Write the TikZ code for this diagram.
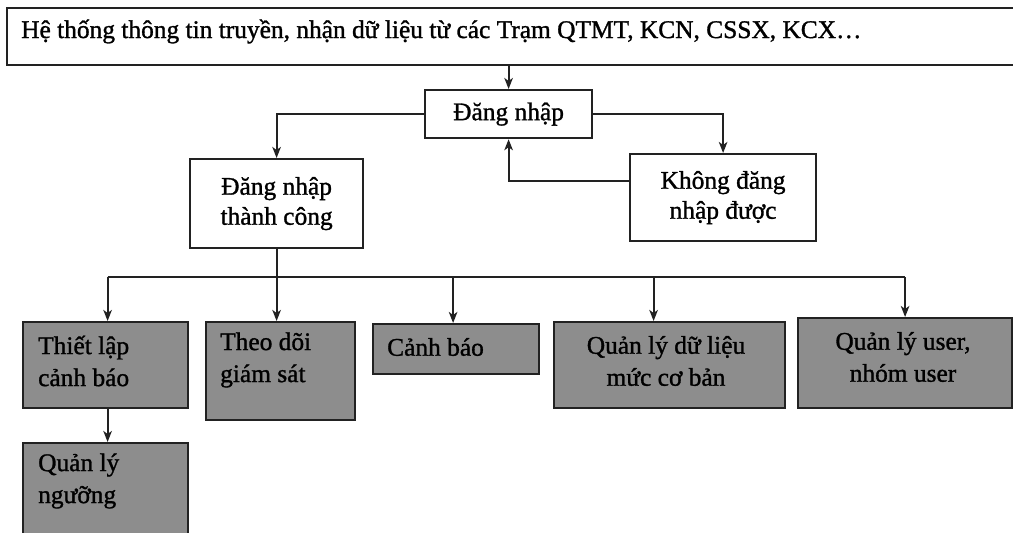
\documentclass[tikz,border=0pt]{standalone}
\usepackage{fontspec}
\setmainfont{Liberation Serif}[FakeBold=1.2]
\usetikzlibrary{arrows.meta}
\definecolor{edge}{HTML}{222222}
\definecolor{boxgray}{HTML}{8D8D8D}
\tikzset{
  conn/.style={draw=edge, line width=2.1pt},
  arr/.style={conn, -{Stealth[length=11pt,width=8.5pt,inset=3pt]}},
  wbox/.style={draw=edge, line width=2.2pt, fill=white, inner sep=0pt, anchor=north west,
    align=center, font=\fontsize{25.4}{30}\selectfont},
  gbox/.style={draw=edge, line width=2.2pt, fill=boxgray, inner sep=0pt, anchor=north west},
  gtxt/.style={inner sep=0pt, font=\fontsize{25.4}{32}\selectfont},
}
\begin{document}
\begin{tikzpicture}[x=1pt,y=-1pt]
\useasboundingbox (0,0) rectangle (1013,533);
\fill[white] (0,0) rectangle (1013,533);
\clip (0,0) rectangle (1013,533);

% header box (runs past the right edge)
\node[wbox, minimum width=1020pt, minimum height=57pt] (top) at (6,7) {};
\node[inner sep=0pt, anchor=base west, font=\fontsize{25.4}{30}\selectfont] (toptxt) at (21,38)
  {Hệ thống thông tin truyền, nhận dữ liệu từ các Trạm QTMT, KCN, CSSX, KCX…};

% login stage
\node[wbox, minimum width=167pt, minimum height=48pt] (dn) at (424,89) {Đăng nhập};
\node[wbox, minimum width=173pt, minimum height=89pt] (ok) at (189,158) {Đăng nhập\\thành công};
\node[wbox, minimum width=186pt, minimum height=87pt] (kh) at (629,153) {Không đăng\\nhập được};

% function boxes
\node[gbox, minimum width=165pt, minimum height=86pt] (tl) at (22,321) {};
\node[gbox, minimum width=149pt, minimum height=98pt] (td) at (205,321) {};
\node[gbox, minimum width=166pt, minimum height=50pt] (cb) at (372,323) {};
\node[gbox, minimum width=231pt, minimum height=86pt] (qd) at (553,321) {};
\node[gbox, minimum width=214pt, minimum height=90pt] (qu) at (797,317) {};
\node[gbox, minimum width=165pt, minimum height=110pt] (qn) at (22,442) {};

\node[gtxt, anchor=west, align=left] (tltxt) at (38,361) {Thiết lập\\cảnh báo};
\node[gtxt, anchor=west, align=left] (tdtxt) at (220,360) {Theo dõi\\giám sát};
\node[gtxt, anchor=west, align=left] (cbtxt) at (387,347) {Cảnh báo};
\node[gtxt, align=center] (qdtxt) at (666,361) {Quản lý dữ liệu\\mức cơ bản};
\node[gtxt, align=center] (qutxt) at (903,357) {Quản lý user,\\nhóm user};
\node[gtxt, anchor=west, align=left] (qntxt) at (38,481) {Quản lý\\ngưỡng};

% connectors
\draw[arr] (top.south -| dn.north) -- (dn.north);
\draw[arr] (dn.west) -| (ok.north);
\draw[arr] (dn.east) -| (kh.north);
\draw[arr] ([yshift=17pt]kh.west) -| (dn.south);

\coordinate (bus) at (0,277);
\draw[arr] (ok.south) -- (ok.south |- td.north);
\draw[conn] ([xshift=2pt]tl.north |- bus) -- (qu.north |- bus);
\draw[arr] ([xshift=2pt]tl.north |- bus) -- ([xshift=2pt]tl.north);
\draw[arr] ([xshift=-3pt]cb.north |- bus) -- ([xshift=-3pt]cb.north);
\draw[arr] ([xshift=-16pt]qd.north |- bus) -- ([xshift=-16pt]qd.north);
\draw[arr] (qu.north |- bus) -- (qu.north);
\draw[arr] ([xshift=2pt]tl.south) -- ([xshift=2pt]qn.north);
\end{tikzpicture}
\end{document}
